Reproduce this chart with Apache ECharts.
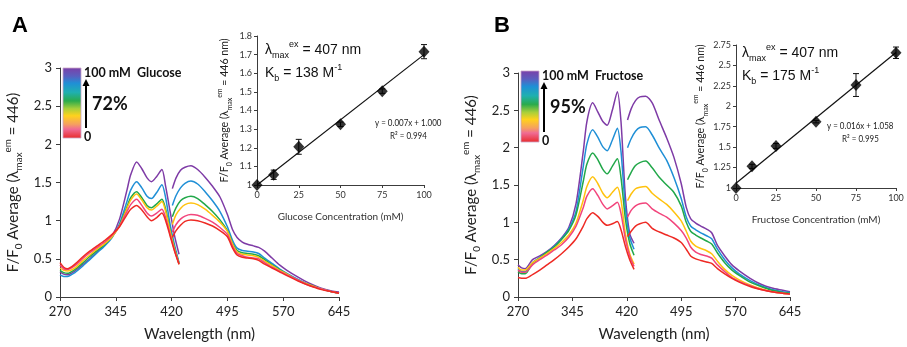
<!DOCTYPE html>
<html>
<head>
<meta charset="utf-8">
<script src="https://cdn.jsdelivr.net/npm/echarts@6/dist/echarts.min.js"></script>
<style>
  html, body { margin: 0; padding: 0; background: #fff; }
  #chart { width: 907px; height: 347px; }
</style>
</head>
<body>
<div id="chart"></div>
<script>
// Wavelength grids (nm) for the excitation and emission halves of each spectrum
const wlEx = [270, 275, 280, 290, 300, 310, 320, 330, 340, 350, 360, 365, 373, 380, 387, 393, 400, 407, 412, 418, 424, 430];
const wlEm = [421, 426, 432, 438, 446, 455, 465, 475, 485, 495, 502, 508, 515, 522, 530, 537, 545, 555, 565, 575, 590, 605, 620, 635, 645];

// curve order: 0, 10, 25, 50, 75, 100 mM
const curveColors = ['#ee2a24', '#f2457c', '#ffc20e', '#22a84a', '#1f8fd6', '#7e3ba6'];

const glucoseEx = [
  [0.45, 0.39, 0.37, 0.43, 0.52, 0.60, 0.67, 0.74, 0.82, 0.92, 1.08, 1.15, 1.20, 1.14, 1.05, 1.00, 1.04, 1.10, 1.00, 0.80, 0.60, 0.43],
  [0.42, 0.37, 0.36, 0.41, 0.50, 0.58, 0.65, 0.72, 0.81, 0.93, 1.12, 1.21, 1.28, 1.20, 1.10, 1.06, 1.10, 1.15, 1.04, 0.82, 0.61, 0.43],
  [0.38, 0.35, 0.34, 0.38, 0.47, 0.55, 0.63, 0.70, 0.79, 0.93, 1.16, 1.27, 1.35, 1.27, 1.17, 1.14, 1.19, 1.25, 1.12, 0.86, 0.63, 0.43],
  [0.35, 0.32, 0.31, 0.36, 0.44, 0.53, 0.61, 0.69, 0.79, 0.94, 1.18, 1.30, 1.38, 1.30, 1.20, 1.17, 1.22, 1.28, 1.15, 0.88, 0.64, 0.44],
  [0.29, 0.27, 0.27, 0.32, 0.40, 0.49, 0.58, 0.67, 0.78, 0.96, 1.25, 1.40, 1.51, 1.43, 1.32, 1.29, 1.37, 1.47, 1.30, 0.95, 0.68, 0.45],
  [0.33, 0.30, 0.29, 0.34, 0.42, 0.50, 0.59, 0.68, 0.80, 1.02, 1.40, 1.60, 1.77, 1.68, 1.56, 1.51, 1.58, 1.67, 1.45, 1.12, 0.80, 0.56]
];
const glucoseEm = [
  [0.78, 0.87, 0.94, 0.99, 1.01, 1.00, 0.97, 0.93, 0.87, 0.79, 0.64, 0.55, 0.52, 0.51, 0.50, 0.48, 0.43, 0.38, 0.33, 0.28, 0.21, 0.15, 0.10, 0.07, 0.05],
  [0.85, 0.95, 1.02, 1.06, 1.08, 1.07, 1.03, 0.98, 0.91, 0.82, 0.66, 0.57, 0.54, 0.52, 0.51, 0.50, 0.45, 0.39, 0.34, 0.29, 0.22, 0.15, 0.11, 0.07, 0.05],
  [0.95, 1.08, 1.16, 1.21, 1.23, 1.21, 1.15, 1.07, 0.98, 0.86, 0.69, 0.59, 0.56, 0.55, 0.54, 0.52, 0.47, 0.41, 0.35, 0.30, 0.22, 0.16, 0.11, 0.07, 0.05],
  [1.05, 1.17, 1.26, 1.30, 1.32, 1.29, 1.21, 1.12, 1.01, 0.87, 0.70, 0.61, 0.58, 0.57, 0.56, 0.54, 0.49, 0.42, 0.36, 0.30, 0.22, 0.16, 0.11, 0.07, 0.05],
  [1.20, 1.33, 1.43, 1.49, 1.52, 1.48, 1.38, 1.26, 1.12, 0.92, 0.74, 0.64, 0.61, 0.60, 0.59, 0.57, 0.51, 0.44, 0.37, 0.31, 0.23, 0.16, 0.11, 0.07, 0.05],
  [1.42, 1.56, 1.66, 1.70, 1.72, 1.67, 1.57, 1.45, 1.31, 1.08, 0.88, 0.78, 0.72, 0.69, 0.67, 0.65, 0.60, 0.51, 0.42, 0.35, 0.26, 0.18, 0.12, 0.08, 0.065]
];

const fructoseEx = [
  [0.26, 0.25, 0.25, 0.30, 0.36, 0.43, 0.50, 0.58, 0.67, 0.78, 0.95, 1.05, 1.13, 1.08, 1.00, 0.96, 0.98, 1.01, 0.90, 0.68, 0.50, 0.37],
  [0.36, 0.33, 0.33, 0.43, 0.50, 0.56, 0.63, 0.70, 0.80, 0.95, 1.20, 1.35, 1.45, 1.36, 1.24, 1.18, 1.22, 1.27, 1.12, 0.78, 0.55, 0.41],
  [0.40, 0.36, 0.36, 0.46, 0.52, 0.58, 0.65, 0.73, 0.83, 0.99, 1.30, 1.48, 1.61, 1.52, 1.39, 1.33, 1.40, 1.47, 1.30, 0.85, 0.58, 0.44],
  [0.34, 0.31, 0.31, 0.45, 0.52, 0.60, 0.67, 0.77, 0.89, 1.10, 1.55, 1.78, 1.93, 1.84, 1.71, 1.65, 1.75, 1.85, 1.60, 1.05, 0.72, 0.56],
  [0.38, 0.34, 0.34, 0.46, 0.53, 0.60, 0.68, 0.78, 0.91, 1.15, 1.75, 2.05, 2.24, 2.14, 2.01, 1.96, 2.10, 2.26, 1.95, 1.20, 0.80, 0.64],
  [0.43, 0.39, 0.38, 0.50, 0.55, 0.61, 0.69, 0.79, 0.93, 1.25, 1.95, 2.35, 2.60, 2.48, 2.35, 2.30, 2.50, 2.75, 2.35, 1.35, 0.85, 0.72]
];
const fructoseEm = [
  [0.81, 0.88, 0.95, 0.98, 1.00, 0.92, 0.87, 0.83, 0.79, 0.73, 0.64, 0.55, 0.51, 0.49, 0.47, 0.45, 0.38, 0.31, 0.25, 0.20, 0.14, 0.10, 0.07, 0.05, 0.04],
  [1.07, 1.16, 1.22, 1.25, 1.26, 1.18, 1.12, 1.07, 0.99, 0.89, 0.79, 0.67, 0.60, 0.57, 0.55, 0.52, 0.43, 0.34, 0.26, 0.21, 0.15, 0.10, 0.07, 0.05, 0.04],
  [1.29, 1.38, 1.45, 1.47, 1.48, 1.39, 1.31, 1.24, 1.14, 1.02, 0.88, 0.75, 0.68, 0.65, 0.62, 0.58, 0.48, 0.37, 0.29, 0.23, 0.16, 0.11, 0.07, 0.05, 0.04],
  [1.57, 1.67, 1.76, 1.80, 1.82, 1.73, 1.60, 1.50, 1.40, 1.22, 1.00, 0.88, 0.83, 0.79, 0.75, 0.71, 0.59, 0.46, 0.36, 0.29, 0.20, 0.14, 0.09, 0.06, 0.05],
  [2.00, 2.12, 2.22, 2.27, 2.28, 2.17, 1.99, 1.83, 1.60, 1.32, 1.07, 0.95, 0.90, 0.86, 0.82, 0.78, 0.64, 0.50, 0.39, 0.31, 0.22, 0.15, 0.10, 0.07, 0.06],
  [2.37, 2.52, 2.63, 2.68, 2.69, 2.60, 2.36, 2.13, 1.87, 1.52, 1.20, 1.05, 0.99, 0.95, 0.91, 0.86, 0.69, 0.55, 0.43, 0.35, 0.25, 0.17, 0.12, 0.09, 0.07]
];

// insets: F/F0 at 446 nm vs sugar concentration
const concentrations = [0, 10, 25, 50, 75, 100];
const glucoseRatio = [1.0, 1.055, 1.205, 1.326, 1.504, 1.716];
const glucoseErr = [0, 0.025, 0.04, 0.012, 0.012, 0.038];
const fructoseRatio = [1.0, 1.265, 1.515, 1.812, 2.26, 2.655];
const fructoseErr = [0, 0.025, 0.03, 0.015, 0.14, 0.07];
const glucoseFit = [0.007, 1.000];   // slope, intercept
const fructoseFit = [0.016, 1.058];

const WL0 = 270; // wavelength axis is offset so that min is a multiple of the interval
const FONT = 'Lato, "Open Sans", sans-serif';
const AXIS_COLOR = '#3c3c3c';

const chart = echarts.init(document.getElementById('chart'));

const nameRich = (size) => ({
  n: { fontSize: size, fontFamily: FONT, color: '#222', lineHeight: size + 6 },
  sb: { fontSize: size * 0.66, fontFamily: FONT, color: '#222', verticalAlign: 'bottom', lineHeight: size * 0.7 },
  sp: { fontSize: size * 0.66, fontFamily: FONT, color: '#222', verticalAlign: 'top', lineHeight: size * 0.7 }
});

function mainX(gridIndex) {
  return {
    type: 'value', gridIndex, min: 0, max: 375, interval: 75,
    name: 'Wavelength (nm)', nameLocation: 'middle', nameGap: 30,
    nameTextStyle: { fontSize: 15, fontFamily: FONT, color: '#222' },
    axisLine: { lineStyle: { color: AXIS_COLOR } },
    axisTick: { length: 4, lineStyle: { color: AXIS_COLOR } },
    axisLabel: { fontSize: 13, fontFamily: FONT, color: '#222', margin: 8, formatter: v => String(v + WL0) },
    splitLine: { show: false }
  };
}
function mainY(gridIndex, gap) {
  return {
    type: 'value', gridIndex, min: 0, max: 3, interval: 0.5,
    name: '{n|F/F}{sb|0}{n| Average (λ}{sb|max}{sp|em}{n| = 446)}',
    nameLocation: 'middle', nameRotate: 90, nameGap: gap,
    nameTextStyle: { rich: nameRich(15) },
    axisLine: { show: true, lineStyle: { color: AXIS_COLOR } },
    axisTick: { show: true, length: 4, lineStyle: { color: AXIS_COLOR } },
    axisLabel: { fontSize: 13, fontFamily: FONT, color: '#222', margin: 8 },
    splitLine: { show: false }
  };
}
function insetX(gridIndex, label) {
  return {
    type: 'value', gridIndex, min: 0, max: 100, interval: 25,
    name: label, nameLocation: 'middle', nameGap: 27,
    nameTextStyle: { fontSize: 10, fontFamily: FONT, color: '#333' },
    axisLine: { lineStyle: { color: AXIS_COLOR } },
    axisTick: { length: 3, lineStyle: { color: AXIS_COLOR } },
    axisLabel: { fontSize: 9, fontFamily: FONT, color: '#333', margin: 6 },
    splitLine: { show: false }
  };
}
function insetY(gridIndex, max, interval, gap) {
  return {
    type: 'value', gridIndex, min: 1, max, interval,
    name: '{n|F/F}{sb|0}{n| Average (λ}{sb|max}{sp|em}{n| = 446 nm)}',
    nameLocation: 'middle', nameRotate: 90, nameGap: gap,
    nameTextStyle: { rich: nameRich(10.6) },
    axisLine: { show: true, lineStyle: { color: AXIS_COLOR } },
    axisTick: { show: true, length: 3, lineStyle: { color: AXIS_COLOR } },
    axisLabel: { fontSize: 9, fontFamily: FONT, color: '#333', margin: 5 },
    splitLine: { show: false }
  };
}

function spectrumSeries(axisIndex, wl, rows) {
  const out = [];
  // draw 100 mM first so the 0 mM (red) curve ends up on top
  for (let k = rows.length - 1; k >= 0; k--) {
    out.push({
      type: 'line', xAxisIndex: axisIndex, yAxisIndex: axisIndex,
      data: wl.map((w, j) => [w - WL0, rows[k][j]]),
      showSymbol: false, smooth: 0.25, silent: true,
      lineStyle: { color: curveColors[k], width: 1.5 },
      z: 2
    });
  }
  return out;
}

function errorBars(axisIndex, ys, errs) {
  return {
    type: 'custom', coordinateSystem: 'cartesian2d',
    xAxisIndex: axisIndex, yAxisIndex: axisIndex,
    data: concentrations.map((c, i) => [c, ys[i], errs[i]]),
    encode: { x: 0, y: 1 },
    z: 4,
    renderItem: (params, api) => {
      const x = api.value(0), y = api.value(1), e = api.value(2);
      if (!e) return null;
      const top = api.coord([x, y + e]);
      const bot = api.coord([x, y - e]);
      const st = { stroke: '#111', lineWidth: 1 };
      return {
        type: 'group', children: [
          { type: 'line', shape: { x1: top[0], y1: top[1], x2: bot[0], y2: bot[1] }, style: st },
          { type: 'line', shape: { x1: top[0] - 3, y1: top[1], x2: top[0] + 3, y2: top[1] }, style: st },
          { type: 'line', shape: { x1: bot[0] - 3, y1: bot[1], x2: bot[0] + 3, y2: bot[1] }, style: st }
        ]
      };
    }
  };
}

function insetSeries(axisIndex, ys, errs, fit) {
  const xEnd = concentrations[concentrations.length - 1];
  return [
    {
      type: 'line', xAxisIndex: axisIndex, yAxisIndex: axisIndex,
      data: [[0, fit[1]], [xEnd, fit[1] + fit[0] * xEnd]],
      showSymbol: false, silent: true,
      lineStyle: { color: '#111', width: 1.2 }, z: 3
    },
    errorBars(axisIndex, ys, errs),
    {
      type: 'scatter', xAxisIndex: axisIndex, yAxisIndex: axisIndex,
      data: concentrations.map((c, i) => [c, ys[i]]),
      symbol: 'diamond', symbolSize: [11, 12], clip: false,
      itemStyle: { color: '#000' }, z: 5
    }
  ];
}

const gradient = new echarts.graphic.LinearGradient(0, 0, 0, 1, [
  { offset: 0, color: '#7b3fa8' },
  { offset: 0.12, color: '#5a5fbf' },
  { offset: 0.22, color: '#1f8fd6' },
  { offset: 0.35, color: '#1fb0b0' },
  { offset: 0.47, color: '#2aab4c' },
  { offset: 0.58, color: '#a8cf3a' },
  { offset: 0.68, color: '#ffd21c' },
  { offset: 0.8, color: '#f5a060' },
  { offset: 0.87, color: '#f06a94' },
  { offset: 1, color: '#e82a2a' }
]);

function legendBlock(x, y, h, sugar, pct) {
  const bold = { fontFamily: 'Lato, sans-serif', fontWeight: 'bold', fill: '#111' };
  const ax = x + 23;
  return [
    { type: 'rect', shape: { x, y, width: 18, height: h }, style: { fill: gradient, stroke: '#c9a6c9', lineWidth: 0.8 } },
    { type: 'text', x: x + 21, y: y - 2, style: Object.assign({ text: '100 mM  ' + sugar, fontSize: 12.5 }, bold) },
    { type: 'line', shape: { x1: ax, y1: y + h - 10, x2: ax, y2: y + 16 }, style: { stroke: '#000', lineWidth: 2 } },
    { type: 'polygon', shape: { points: [[ax, y + 11], [ax - 3.5, y + 18], [ax + 3.5, y + 18]] }, style: { fill: '#000' } },
    { type: 'text', x: x + 29, y: y + 27, style: Object.assign({ text: pct, fontSize: 18 }, bold) },
    { type: 'text', x: x + 21, y: y + h - 8, style: Object.assign({ text: '0', fontSize: 12.5 }, bold) }
  ];
}

const arial = '"Liberation Sans", Arial, sans-serif';
const insetRich = {
  n: { fontSize: 14, fontFamily: arial, fill: '#111', lineHeight: 20 },
  sb: { fontSize: 9, fontFamily: arial, fill: '#111', verticalAlign: 'bottom', lineHeight: 10 },
  sp: { fontSize: 9, fontFamily: arial, fill: '#111', verticalAlign: 'top', lineHeight: 10 }
};
function insetText(x, y, kb, eq, r2, eqX) {
  const small = { fontSize: 10, fontFamily: FONT, fill: '#222' };
  return [
    { type: 'text', x, y, style: { text: '{n|λ}{sb|max}{sp|ex}{n| = 407 nm}', rich: insetRich } },
    { type: 'text', x, y: y + 23, style: { text: '{n|K}{sb|b}{n| = ' + kb + ' M}{sp|-1}', rich: insetRich } },
    { type: 'text', x: eqX, y: y + 78, scaleX: 0.8, style: Object.assign({ text: eq }, small) },
    { type: 'text', x: eqX + 15, y: y + 91, scaleX: 0.8, style: Object.assign({ text: r2 }, small) }
  ];
}

const option = {
  animation: false,
  backgroundColor: '#fff',
  grid: [
    { left: 60, top: 68, width: 279, height: 232 },
    { left: 518, top: 73, width: 272, height: 231.5 },
    { left: 257, top: 36, width: 167, height: 149 },
    { left: 736, top: 45, width: 160, height: 143 }
  ],
  xAxis: [mainX(0), mainX(1), insetX(2, 'Glucose Concentration (mM)'), insetX(3, 'Fructose Concentration (mM)')],
  yAxis: [mainY(0, 36), mainY(1, 36), insetY(2, 1.8, 0.1, 24), insetY(3, 2.75, 0.25, 26)],
  series: [].concat(
    spectrumSeries(0, wlEx, glucoseEx),
    spectrumSeries(0, wlEm, glucoseEm),
    spectrumSeries(1, wlEx, fructoseEx),
    spectrumSeries(1, wlEm, fructoseEm),
    insetSeries(2, glucoseRatio, glucoseErr, glucoseFit),
    insetSeries(3, fructoseRatio, fructoseErr, fructoseFit)
  ),
  graphic: [].concat(
    [
      { type: 'text', x: 12, y: 15, style: { text: 'A', fontSize: 22, fontWeight: 'bold', fontFamily: arial, fill: '#000' } },
      { type: 'text', x: 494, y: 15, style: { text: 'B', fontSize: 22, fontWeight: 'bold', fontFamily: arial, fill: '#000' } }
    ],
    legendBlock(63, 68, 70, 'Glucose', '72%'),
    legendBlock(521, 71, 71, 'Fructose', '95%'),
    insetText(265, 40, '138', 'y = 0.007x + 1.000', 'R² = 0.994', 375),
    insetText(742, 43, '175', 'y = 0.016x + 1.058', 'R² = 0.995', 827)
  )
};

chart.setOption(option);
</script>
</body>
</html>
